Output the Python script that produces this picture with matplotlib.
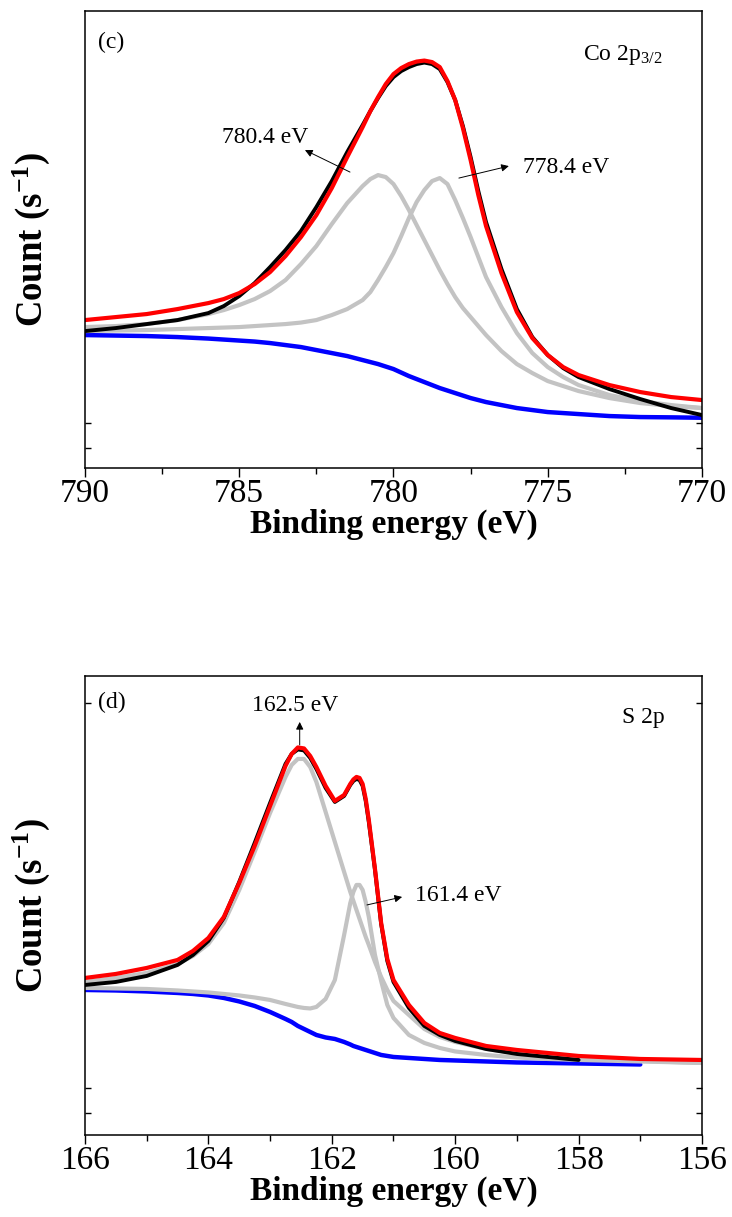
import matplotlib
matplotlib.use("Agg")
import matplotlib.pyplot as plt
from matplotlib.ticker import MultipleLocator

plt.rcParams["font.family"] = ["Liberation Serif", "DejaVu Serif"]
plt.rcParams["mathtext.fontset"] = "custom"
plt.rcParams["mathtext.rm"] = "Liberation Serif"
plt.rcParams["mathtext.it"] = "Liberation Serif:italic"
plt.rcParams["mathtext.bf"] = "Liberation Serif:bold"

# ---- Co 2p3/2 (panel c), counts in arbitrary units ----
co_energy = [790, 789, 788, 787, 786,
             785.5, 785, 784.5, 784,
             783.5, 783, 782.5, 782, 781.5, 781,
             780.75, 780.5, 780.25, 780,
             779.75, 779.5, 779.25, 779,
             778.75, 778.5, 778.25, 778,
             777.75, 777.5, 777.25, 777,
             776.5, 776, 775.5, 775, 774.5, 774,
             773, 772, 771, 770]
co_raw = [137, 140, 144, 148, 155,
          162, 172, 185, 201,
          218, 237, 261, 287, 316, 343,
          357, 370, 382, 391,
          397, 401, 404, 405.5,
          404, 399, 386, 368,
          342, 311, 277, 246,
          199, 159, 131, 113, 100, 91,
          79, 69, 60, 53]
co_envelope = [148, 151, 154, 159, 165,
               169, 175, 184, 196,
               212, 231, 253, 280, 311, 341,
               357, 371, 384, 394,
               400, 404, 406.5, 407.5,
               406, 401, 387, 368,
               340, 308, 273, 242,
               195, 156, 130, 113, 101, 93,
               83, 76, 71, 68]
co_peak1 = [141, 142, 144, 148, 154,
            158, 163, 169, 177,
            188, 204, 222, 244, 265, 282,
            289, 293, 291, 284,
            272, 258, 243, 228,
            213, 198, 184, 171,
            160, 151, 142, 133,
            117, 104, 95, 87, 82, 77,
            70, 65, 62, 60]
co_peak2 = [137, 137.5, 138, 139, 140,
            140.5, 141, 142, 143,
            144, 145.5, 148, 153, 159, 168,
            176, 188, 201, 215,
            232, 250, 266, 278,
            287, 290, 284, 268,
            250, 231, 211, 191,
            161, 135, 115, 101, 91, 83,
            73, 67, 63, 60]
co_background = [133, 132.5, 132, 131, 129.5,
                 128.5, 127.5, 126.5, 125,
                 123, 121, 118, 115, 112, 108,
                 106, 104, 101.5, 99,
                 95.5, 92, 89, 86,
                 83, 80, 77.5, 75,
                 72.5, 70, 68, 66,
                 63, 60, 58, 56, 55, 54,
                 52, 51, 50.7, 50.3]

# ---- S 2p (panel d) ----
s_energy = [166, 165.5, 165, 164.5, 164.25, 164,
            163.75, 163.5, 163.25, 163,
            162.75, 162.65, 162.55, 162.45, 162.35, 162.25,
            162.1, 161.95, 161.8, 161.7,
            161.65, 161.6, 161.55, 161.5, 161.45, 161.4,
            161.3, 161.2, 161.1, 161,
            160.75, 160.5, 160.25, 160,
            159.5, 159, 158.5, 158, 157, 156]
s_raw = [150, 153, 159, 170, 180, 194,
         217, 253, 292, 332,
         371, 381, 385.5, 384.5, 377, 366,
         347, 333, 339, 350,
         354, 356, 355, 349, 334, 313,
         265, 211, 174, 153,
         127, 109, 100, 94,
         86, 81, 78, 75]
s_envelope = [157, 161, 167, 175, 184, 197,
              218, 252, 289, 329,
              369, 381, 387.5, 386.5, 379, 368,
              349, 334, 340, 351,
              355.5, 358, 357, 351, 336, 315,
              266, 212, 176, 155,
              130, 112, 102, 97,
              89, 85, 82, 79, 76, 75]
s_peak1 = [153, 157, 162, 171, 179, 191,
           212, 245, 283, 322,
           358, 370, 376, 376, 368, 353,
           323, 293, 263, 243,
           234, 225, 216, 207, 198, 190,
           173, 158, 145, 134,
           120, 106, 98, 93,
           86, 82, 79, 77, 74, 72]
s_peak2 = [147, 146.5, 146, 144.5, 143.5, 142.5,
           141, 139.5, 137.5, 135,
           131, 129.5, 128, 127, 126.5, 128,
           136, 155, 200, 232,
           243, 250, 250, 245, 233, 218,
           180, 154, 130, 117,
           100, 92, 87, 83.5,
           80, 77.5, 76, 75, 73.5, 72]
s_background = [145, 144.5, 143.5, 142, 141, 139.5,
                137, 133.5, 129, 123,
                116, 113, 109, 106, 103, 100,
                97.5, 96, 93, 90.5,
                89, 88, 87, 86, 85, 84,
                82, 80, 79, 78,
                77, 76, 75, 74.5,
                73.5, 72.5, 72, 71.5, 70.5]

GREY = "#c3c3c3"


def draw_panel(ax, energy, raw, envelope, peak1, peak2, background):
    """Background, fitted components, raw data and fit envelope."""
    kw = dict(solid_joinstyle="round", solid_capstyle="round")
    ax.plot(energy[:len(background)], background, color="#0000ff", lw=3.2, **kw)
    ax.plot(energy, peak1, color=GREY, lw=3.0, **kw)
    ax.plot(energy, peak2, color=GREY, lw=3.0, **kw)
    ax.plot(energy[:len(raw)], raw, color="black", lw=2.8, **kw)
    ax.plot(energy, envelope, color="#ff0000", lw=3.0, **kw)


def style_axes(ax, xlim, major, minor, ylim, yticks):
    ax.set_xlim(*xlim)
    ax.set_ylim(*ylim)
    ax.xaxis.set_major_locator(MultipleLocator(major))
    ax.xaxis.set_minor_locator(MultipleLocator(minor))
    ax.set_yticks(yticks)
    ax.set_yticklabels([])
    ax.tick_params(axis="x", which="major", direction="out", length=6.5,
                   width=1, labelsize=24, pad=1, top=False)
    ax.tick_params(axis="x", which="minor", direction="out", length=4,
                   width=1, top=False)
    ax.tick_params(axis="y", which="major", direction="in", length=4,
                   width=1, left=True, right=True)
    for sp in ax.spines.values():
        sp.set_linewidth(1.1)
    ax.set_xlabel("Binding energy (eV)", fontsize=24, fontweight="bold",
                  labelpad=0)
    ax.set_ylabel(r"Count (s$^{\mathbf{-1}}$)", fontsize=26.5, fontweight="bold",
                  labelpad=20)


def label_arrow(ax, text, text_xy, tail, head):
    ax.text(text_xy[0], text_xy[1], text, fontsize=17, ha="left", va="baseline")
    ax.annotate("", xy=head, xytext=tail,
                arrowprops=dict(arrowstyle="-|>", color="black", lw=0.7,
                                mutation_scale=11, shrinkA=0, shrinkB=0))


fig = plt.figure(figsize=(7.32, 12.17), dpi=100)
ax_co = fig.add_axes([0.1161, 0.6154, 0.8429, 0.3755])
ax_s = fig.add_axes([0.1161, 0.0674, 0.8429, 0.3772])

# panel (c)
draw_panel(ax_co, co_energy, co_raw, co_envelope, co_peak1, co_peak2, co_background)
style_axes(ax_co, (790, 770), 5, 2.5, (0, 457), [20, 45])
ax_co.text(789.58, 420, "(c)", fontsize=17, ha="left", va="baseline")
ax_co.text(773.86, 408, r"Co 2p$_{\mathrm{3/2}}$", fontsize=17, ha="left",
           va="baseline")
label_arrow(ax_co, "780.4 eV", (785.56, 325), (781.41, 296), (782.87, 318))
label_arrow(ax_co, "778.4 eV", (775.80, 295), (777.88, 290), (776.26, 302))

# panel (d)
draw_panel(ax_s, s_energy, s_raw, s_envelope, s_peak1, s_peak2, s_background)
style_axes(ax_s, (166, 156), 2, 1, (0, 459), [22, 47, 432])
ax_s.text(165.79, 427, "(d)", fontsize=17, ha="left", va="baseline")
ax_s.text(157.30, 412, "S 2p", fontsize=17, ha="left", va="baseline")
label_arrow(ax_s, "162.5 eV", (163.29, 424), (162.52, 390), (162.52, 413))
label_arrow(ax_s, "161.4 eV", (160.65, 234), (161.43, 230), (160.86, 238))

fig.savefig("out.png", dpi=100)
